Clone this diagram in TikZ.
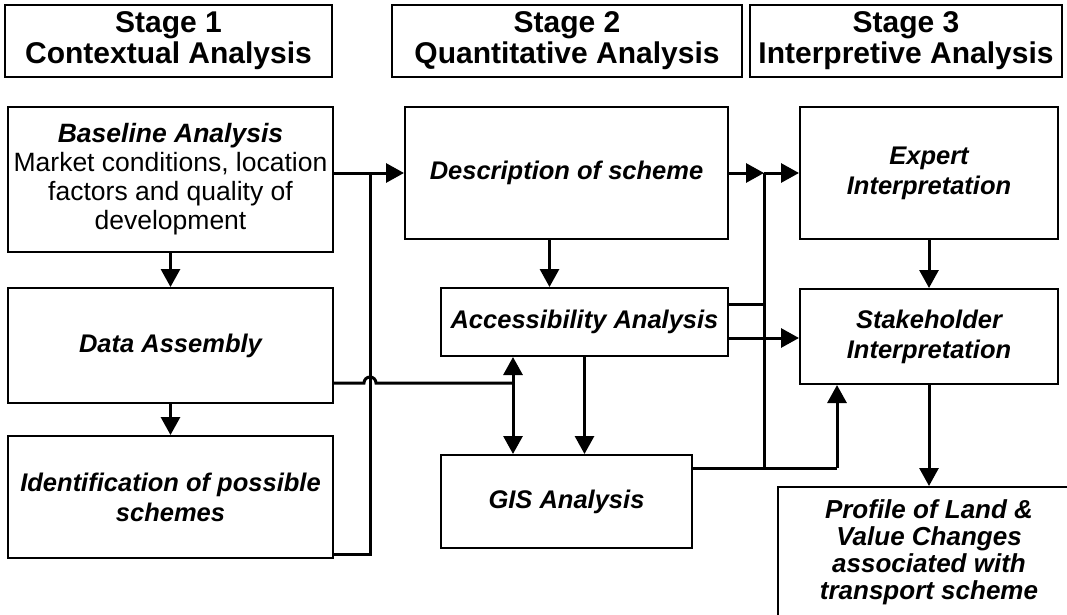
\documentclass[tikz,border=0pt]{standalone}
\usepackage{fontspec}
\setmainfont{Liberation Sans}
\usetikzlibrary{arrows.meta}

\begin{document}
\begin{tikzpicture}[x=1pt, y=1pt,
    bloc/.style={draw, line width=2pt, align=center, inner sep=0pt,
        font=\fontsize{25.5}{30}\selectfont\bfseries\itshape},
    stagebox/.style={draw, line width=2pt, align=center, inner sep=0pt,
        font=\fontsize{30}{31}\selectfont\bfseries},
    conn/.style={line width=3pt},
    arr/.style={conn, -{Triangle[length=18pt, width=19pt]}},
    darr/.style={conn, {Triangle[length=18pt, width=19pt]}-{Triangle[length=18pt, width=19pt]}}
    ]
    \useasboundingbox (0,0) rectangle (1067,-615);

    \node[stagebox, minimum width=327, minimum height=72] (st1) at (168.5,-41)
        {Stage 1\\Contextual Analysis};
    \node[stagebox, minimum width=350, minimum height=72] (st2) at (567,-41)
        {Stage 2\\Quantitative Analysis};
    \node[stagebox, minimum width=312, minimum height=72] (st3) at (906,-41)
        {Stage 3\\Interpretive Analysis};

    \node[bloc, minimum width=325, minimum height=145,
        font=\fontsize{26.5}{29}\selectfont] (baseline) at (170.5,-179.5)
        {\textbf{\textit{Baseline Analysis}}\\Market conditions, location\\factors and quality of\\development};
    \node[bloc, minimum width=325, minimum height=115] (dataasm) at (170.5,-345.5)
        {Data Assembly};
    \node[bloc, minimum width=325, minimum height=122] (ident) at (170.5,-497)
        {Identification of possible\\schemes};

    \node[bloc, minimum width=323, minimum height=132] (desc) at (566.5,-173)
        {Description of scheme};
    \node[bloc, minimum width=287, minimum height=68] (access) at (584.5,-322)
        {Accessibility Analysis};
    \node[bloc, minimum width=251, minimum height=93] (gis) at (566.5,-501.5)
        {GIS Analysis};

    \node[bloc, minimum width=258, minimum height=132] (expert) at (929,-173)
        {Expert\\Interpretation};
    \node[bloc, minimum width=258, minimum height=95] (stake) at (929,-336.5)
        {Stakeholder\\Interpretation};
    \node[bloc, minimum width=302, minimum height=131,
        font=\fontsize{26}{27}\selectfont\bfseries\itshape] (profile) at (929,-552.5)
        {Profile of Land \&\\Value Changes\\associated with\\transport scheme};

    \coordinate (j1) at (370,-173);
    \coordinate (j2) at (370,-554);
    \coordinate (hop) at (364,-383);
    \coordinate (j3) at (513,-383);
    \coordinate (j4) at (764,-173);
    \coordinate (j5) at (764,-468);
    \coordinate (j6) at (837,-468);
    \path ([xshift=-17pt]desc.south) coordinate (d1);
    \path ([yshift=18pt]access.east) coordinate (a1)
          ([yshift=-16pt]access.east) coordinate (a2);

    \draw[arr] (baseline.south) -- (dataasm.north);
    \draw[arr] (dataasm.south) -- (ident.north);
    \draw[arr] (baseline.east |- desc.west) -- (desc.west);
    \draw[conn] (ident.east |- j2) -- (j2) -- (j1);
    \draw[conn] (dataasm.east |- hop) -- (hop)
        arc[start angle=180, end angle=0, radius=6] -- (j3);
    \draw[darr] (access.south -| j3) -- (gis.north -| j3);

    \draw[arr] (d1) -- (d1 |- access.north);
    \draw[arr] (access.south) -- (access.south |- gis.north);
    \draw[arr] (desc.east) -- (j4);
    \draw[arr] (j4) -- (expert.west);
    \draw[conn] (j4) -- (j5);
    \draw[conn] (a1) -- (a1 -| j4);
    \draw[arr] (a2) -- (a2 -| stake.west);
    \draw[conn] (gis.east |- j5) -- (j6);
    \draw[arr] (j6) -- (j6 |- stake.south);

    \draw[arr] (expert.south) -- (stake.north);
    \draw[arr] (stake.south) -- (stake.south |- profile.north);
\end{tikzpicture}
\end{document}
